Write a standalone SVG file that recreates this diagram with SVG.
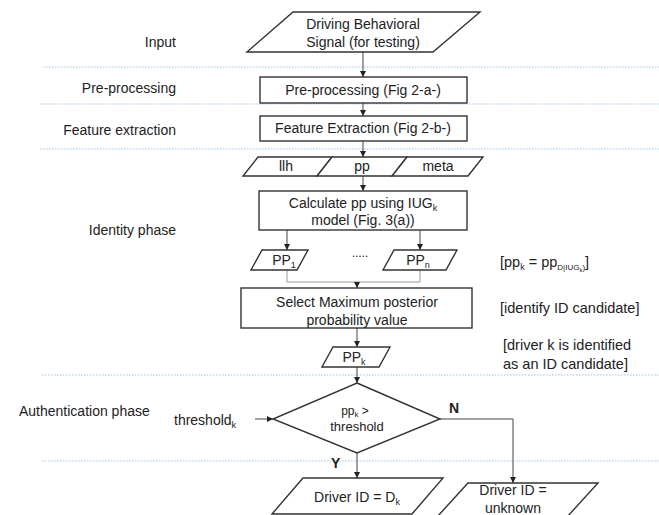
<svg xmlns="http://www.w3.org/2000/svg" width="659" height="515" viewBox="0 0 659 515">
<defs>
<style>
text{font-family:"Liberation Sans",Arial,sans-serif;fill:#222;}
.lbl{font-size:14px;text-anchor:end;}
.rl{font-size:14.5px;}
.bx{font-size:14px;text-anchor:middle;}
.shape{fill:#fff;stroke:#333;stroke-width:1.4;}
.conn{fill:none;stroke:#444;stroke-width:1;}
.lite{fill:none;stroke:#999;stroke-width:1;}
.sep{fill:none;stroke:#9dc3e6;stroke-width:1;stroke-dasharray:1.5 1.5;}
.yn{font-size:14px;font-weight:bold;}
</style>
<marker id="ah" viewBox="0 0 6 6" refX="6" refY="3" markerWidth="6" markerHeight="6" markerUnits="userSpaceOnUse" orient="auto">
<path d="M0,0 L6,3 L0,6 z" fill="#222"/>
</marker>
</defs>
<rect width="659" height="515" fill="#fff"/>

<g id="separators">
<line class="sep" x1="43" y1="67" x2="659" y2="67"/>
<line class="sep" x1="40" y1="104" x2="659" y2="104"/>
<line class="sep" x1="40" y1="149" x2="659" y2="149"/>
<line class="sep" x1="42" y1="375" x2="659" y2="375"/>
<line class="sep" x1="42" y1="461" x2="659" y2="461"/>
</g>

<g id="phase-labels">
<text class="lbl" x="176" y="47">Input</text>
<text class="lbl" x="176" y="93">Pre-processing</text>
<text class="lbl" x="176" y="135">Feature extraction</text>
<text class="lbl" x="176" y="235">Identity phase</text>
<text x="19" y="416" style="font-size:14px">Authentication phase</text>
</g>

<g id="notes">
<text class="rl" x="500" y="267">[pp<tspan font-size="9" dy="3">k</tspan><tspan dy="-3"> = pp</tspan><tspan font-size="8" dy="3">D|IUG</tspan><tspan font-size="6" dy="2">k</tspan><tspan font-size="8" dy="-2">)</tspan><tspan dy="-3">]</tspan></text>
<text class="rl" x="500" y="313">[identify ID candidate]</text>
<text class="rl" x="503" y="350">[driver k is identified</text>
<text class="rl" x="503" y="369">as an ID candidate]</text>
</g>

<g id="connectors">
<line class="conn" x1="363" y1="52" x2="363" y2="77" marker-end="url(#ah)"/>
<line class="conn" x1="363" y1="103" x2="363" y2="116" marker-end="url(#ah)"/>
<line class="conn" x1="363" y1="141" x2="363" y2="157" marker-end="url(#ah)"/>
<line class="conn" x1="363" y1="176" x2="363" y2="191" marker-end="url(#ah)"/>
<line class="conn" x1="287" y1="230" x2="287" y2="250" marker-end="url(#ah)"/>
<line class="conn" x1="420" y1="230" x2="420" y2="250" marker-end="url(#ah)"/>
<path class="lite" d="M287,270 V282 H420 V270"/>
<line class="conn" x1="357" y1="282" x2="357" y2="288" marker-end="url(#ah)"/>
<line class="conn" x1="357" y1="328" x2="357" y2="347" marker-end="url(#ah)"/>
<line class="conn" x1="357" y1="367" x2="357" y2="383" marker-end="url(#ah)"/>
<line class="conn" x1="255" y1="419" x2="273" y2="419" marker-end="url(#ah)"/>
<line class="conn" x1="357" y1="453" x2="357" y2="478" marker-end="url(#ah)"/>
<path class="conn" d="M440,419 H513 V483" marker-end="url(#ah)"/>
<text class="yn" x="331" y="468">Y</text>
<text class="yn" x="449" y="413">N</text>
</g>

<g id="input">
<polygon class="shape" points="293,12 480,12 433,52 247,52"/>
<text class="bx" x="363" y="29">Driving Behavioral</text>
<text class="bx" x="363" y="47">Signal (for testing)</text>
</g>

<g id="preprocessing">
<rect class="shape" x="260" y="77" width="207" height="26"/>
<text class="bx" x="363" y="95">Pre-processing (Fig 2-a-)</text>
</g>

<g id="feature-extraction">
<rect class="shape" x="260" y="116" width="207" height="25"/>
<text class="bx" x="363" y="133">Feature Extraction (Fig 2-b-)</text>
</g>

<g id="features">
<polygon class="shape" points="258,157 332,157 317,176 243,176"/>
<polygon class="shape" points="332,157 407,157 392,176 317,176"/>
<polygon class="shape" points="407,157 483,157 468,176 392,176"/>
<text class="bx" x="286" y="171">llh</text>
<text class="bx" x="362" y="171">pp</text>
<text class="bx" x="438" y="171">meta</text>
</g>

<g id="calculate">
<rect class="shape" x="259" y="191" width="208" height="39"/>
<text class="bx" x="363" y="208">Calculate pp using IUG<tspan font-size="9" dy="3">k</tspan></text>
<text class="bx" x="363" y="225">model (Fig. 3(a))</text>
</g>

<g id="pp1">
<polygon class="shape" points="262,250 308,250 297,270 251,270"/>
<text class="bx" x="284" y="265">PP<tspan font-size="9" dy="3">1</tspan></text>
</g>

<g id="dots">
<text class="bx" x="360" y="257" style="font-size:12px">.....</text>
</g>

<g id="ppn">
<polygon class="shape" points="394,250 457,250 446,270 383,270"/>
<text class="bx" x="418" y="265">PP<tspan font-size="9" dy="3">n</tspan></text>
</g>

<g id="select-max">
<rect class="shape" x="241" y="288" width="231" height="40"/>
<text class="bx" x="357" y="307">Select Maximum posterior</text>
<text class="bx" x="357" y="325">probability value</text>
</g>

<g id="ppk">
<polygon class="shape" points="333,347 390,347 379,367 322,367"/>
<text class="bx" x="354" y="362">PP<tspan font-size="9" dy="3">k</tspan></text>
</g>

<g id="decision">
<polygon class="shape" points="357,383 440,419 357,453 273,419"/>
<text class="bx" x="355" y="415" style="font-size:12px">pp<tspan font-size="8" dy="2">k</tspan><tspan dy="-2"> &gt;</tspan></text>
<text class="bx" x="357" y="431" style="font-size:13px">threshold</text>
</g>

<g id="threshold-input">
<text x="174" y="425" style="font-size:14px">threshold<tspan font-size="9" dy="3">k</tspan></text>
</g>

<g id="driver-known">
<polygon class="shape" points="303,478 443,478 412,514 272,514"/>
<text class="bx" x="357" y="502">Driver ID = D<tspan font-size="9" dy="3">k</tspan></text>
</g>

<g id="driver-unknown">
<polygon class="shape" points="468,483 598,483 567,517 437,517"/>
<text class="bx" x="513" y="495">Driver ID =</text>
<text class="bx" x="513" y="513">unknown</text>
</g>
</svg>
